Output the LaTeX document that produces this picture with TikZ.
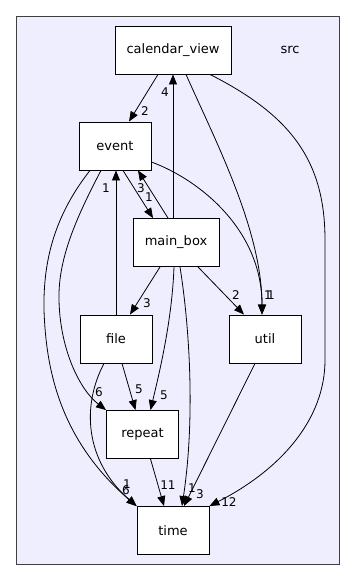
\documentclass[tikz,border=0pt]{standalone}
\usepackage{fontspec}
\setmainfont{DejaVu Sans}
\usetikzlibrary{arrows.meta}
\definecolor{clusterfill}{RGB}{238,238,255}
\definecolor{clusterline}{RGB}{64,64,64}

\begin{document}
\begin{tikzpicture}[x=1pt,y=-1pt,>={Triangle[length=10pt,width=8pt]},
  dir/.style={draw,fill=white,line width=0.9pt,minimum width=72pt,minimum height=48pt,inner sep=0pt,font=\fontsize{13}{15}\selectfont},
  dep/.style={->,line width=0.8pt},
  num/.style={inner sep=0pt,font=\fontsize{12}{13}\selectfont}]

\useasboundingbox (0,0) rectangle (355,581);

% the src folder
\draw[clusterline,fill=clusterfill,line width=1pt] (16,16) rectangle (339,564);
\node[font=\fontsize{13}{15}\selectfont] (src) at (290,50) {src};

\node[dir,minimum width=116pt] (calendar_view) at (173,50) {calendar\_view};
\node[dir] (event) at (115,146) {event};
\node[dir,minimum width=86pt] (main_box) at (176,242.5) {main\_box};
\node[dir] (file) at (116,339) {file};
\node[dir] (util) at (265,339) {util};
\node[dir] (repeat) at (142.5,434.5) {repeat};
\node[dir] (time) at (173,530.5) {time};

\draw[dep] ([xshift=-15pt]calendar_view.south) -- ([xshift=14pt]event.north) node[num,at={(145,111)}] (l1) {2};
\draw[dep] ([xshift=-3pt]main_box.north) -- (calendar_view.south) node[num,at={(165,92)}] (l2) {4};
\draw[dep] ([xshift=13pt]calendar_view.south) .. controls (215,140) and (262,230) .. ([xshift=-3pt]util.north) node[num,at={(268,295)}] (l3) {1};
\draw[dep] ([xshift=37pt]calendar_view.south) .. controls (290,115) and (325,160) .. (325,240) -- (325,360) .. controls (325,420) and (280,470) .. (time.north east) node[num,at={(229,502)}] (l4) {12};

\draw[dep] ([xshift=8pt]event.south) -- ([xshift=-23pt]main_box.north) node[num,at={(149,197)}] (l5) {1};
\draw[dep] ([xshift=-8pt]main_box.north) -- ([xshift=23pt]event.south) node[num,at={(141,188)}] (l6) {3};
\draw[dep] ([yshift=-16pt]event.east) .. controls (200,180) and (262,230) .. ([xshift=-3pt]util.north) node[num,at={(271,295)}] (l7) {1};
\draw[dep] ([xshift=-14pt]event.south) .. controls (75,220) and (58,260) .. (59,300) .. controls (60,350) and (80,390) .. (repeat.north west) node[num,at={(99,392)}] (l8) {6};
\draw[dep] ([xshift=-25pt]event.south) .. controls (55,215) and (43,260) .. (44,310) .. controls (46,370) and (60,440) .. (time.north west) node[num,at={(127,484)}] (l9) {1};

\draw[dep] (file.north) -- (file.north |- event.south) node[num,at={(106,188)}] (l10) {1};
\draw[dep] ([xshift=-16pt]main_box.south) -- ([xshift=14pt]file.north) node[num,at={(147,303)}] (l11) {3};
\draw[dep] ([xshift=22pt]main_box.south) -- ([xshift=-21pt]util.north) node[num,at={(236,295)}] (l12) {2};
\draw[dep] ([xshift=-2pt]main_box.south) .. controls (172,320) and (160,370) .. ([xshift=8pt]repeat.north) node[num,at={(164,395)}] (l13) {5};
\draw[dep] ([xshift=4pt]main_box.south) .. controls (190,330) and (195,420) .. ([xshift=9pt]time.north) node[num,at={(192,488)}] (l14) {1};

\draw[dep] ([xshift=6pt]file.south) -- ([xshift=-7pt]repeat.north) node[num,at={(139,389)}] (l15) {5};
\draw[dep] ([xshift=-12pt]file.south) .. controls (82,405) and (84,460) .. (time.north west) node[num,at={(126,490)}] (l16) {6};
\draw[dep] ([xshift=8pt]repeat.south) -- ([xshift=-9pt]time.north) node[num,at={(168,485)}] (l17) {11};
\draw[dep] ([xshift=-10pt]util.south) -- ([xshift=11pt]time.north) node[num,at={(200,494)}] (l18) {3};
\end{tikzpicture}
\end{document}
